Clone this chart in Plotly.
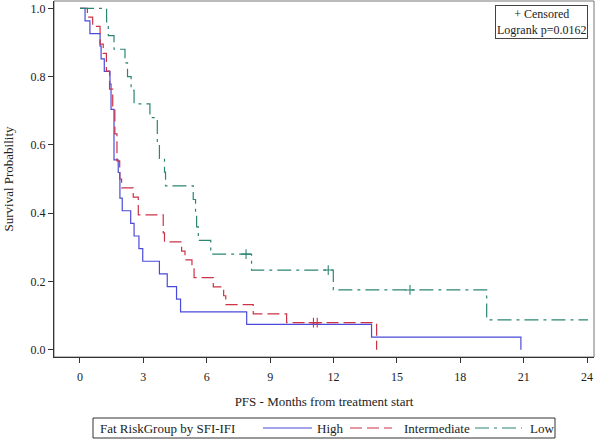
import plotly.graph_objects as go

# ---- data ----
high_t = [0, 0.24, 0.47, 0.95, 1.0, 1.15, 1.42, 1.47, 1.61, 1.81, 1.89, 2.0, 2.4, 2.56, 2.79, 2.97, 3.76, 4.13, 4.57, 4.76, 7.89, 13.8, 20.87]
high_s = [1.0, 0.963, 0.926, 0.889, 0.852, 0.815, 0.778, 0.704, 0.556, 0.519, 0.444, 0.407, 0.370, 0.333, 0.296, 0.259, 0.222, 0.185, 0.148, 0.111, 0.074, 0.037, 0.0]

inter_t = [0, 0.35, 0.6, 0.95, 1.1, 1.25, 1.4, 1.55, 1.65, 1.75, 1.88, 1.97, 2.52, 2.76, 3.94, 4.0, 4.81, 4.97, 5.3, 5.4, 6.31, 6.8, 6.9, 8.2, 9.78, 14.04]
inter_s = [1.0, 0.974, 0.947, 0.895, 0.868, 0.816, 0.763, 0.711, 0.632, 0.553, 0.5, 0.474, 0.447, 0.395, 0.342, 0.316, 0.289, 0.263, 0.237, 0.211, 0.184, 0.158, 0.132, 0.105, 0.079, 0.0]
inter_cens_t = [11.05, 11.23]
inter_cens_s = [0.079, 0.079]

low_t = [0, 1.26, 1.34, 1.61, 2.13, 2.25, 2.42, 2.56, 3.31, 3.66, 3.76, 4.0, 4.05, 5.36, 5.47, 5.52, 5.6, 6.19, 8.12, 11.99, 19.25, 24.05]
low_s = [1.0, 0.96, 0.92, 0.88, 0.84, 0.80, 0.76, 0.72, 0.68, 0.60, 0.56, 0.52, 0.48, 0.44, 0.40, 0.36, 0.32, 0.28, 0.2333, 0.175, 0.0875, 0.0875]
low_cens_t = [7.86, 11.75, 15.62]
low_cens_s = [0.28, 0.2333, 0.175]

x_ticks = [0, 3, 6, 9, 12, 15, 18, 21, 24]
y_ticks = [0.0, 0.2, 0.4, 0.6, 0.8, 1.0]
y_tick_labels = ["0.0", "0.2", "0.4", "0.6", "0.8", "1.0"]

group_names = ["High", "Intermediate", "Low"]
legend_title = "Fat RiskGroup by SFI-IFI"

c_high = "#4B4BDB"
c_inter = "#CC3344"
c_low = "#2B8573"
colors = [c_high, c_inter, c_low]
dashes = ["solid", "12px,5px", "14px,5px,3px,5px"]
FONT = "Liberation Serif"

fig = go.Figure()
series = [(high_t, high_s), (inter_t, inter_s), (low_t, low_s)]
for (t, s), name, col, dsh in zip(series, group_names, colors, dashes):
    fig.add_trace(go.Scatter(x=t, y=s, mode="lines", line_shape="hv", name=name,
                             line=dict(color=col, width=1.2, dash=dsh), showlegend=False))
fig.add_trace(go.Scatter(x=inter_cens_t, y=inter_cens_s, mode="markers", showlegend=False,
                         marker=dict(symbol="cross-thin", size=7, line=dict(color=c_inter, width=1.1))))
fig.add_trace(go.Scatter(x=low_cens_t, y=low_cens_s, mode="markers", showlegend=False,
                         marker=dict(symbol="cross-thin", size=7, line=dict(color=c_low, width=1.1))))

fig.add_annotation(xref="paper", yref="paper", x=0.989, y=0.989, xanchor="right", yanchor="top",
                   text="+ Censored<br>Logrank p=0.0162", showarrow=False, align="center",
                   font=dict(family=FONT, size=12, color="#222"),
                   bordercolor="#444", borderwidth=1, borderpad=1, bgcolor="white")

# ---- bottom legend drawn in paper coordinates ----
def px_x(px):
    return (px - 54) / 540.0

def px_y(py):
    return (357 - py) / 356.0

fig.add_shape(type="rect", xref="paper", yref="paper", x0=px_x(93), x1=px_x(555),
              y0=px_y(418), y1=px_y(438), line=dict(color="#333", width=1), fillcolor="white")
fig.add_annotation(xref="paper", yref="paper", x=px_x(98), y=px_y(428), xanchor="left", yanchor="middle",
                   text=legend_title, showarrow=False, font=dict(family=FONT, size=13, color="#222"))
legend_lines = [(263, 312, 315), (350, 392, 402), (475, 522, 528)]
for (l0, l1, tx), name, col, dsh in zip(legend_lines, group_names, colors, dashes):
    fig.add_shape(type="line", xref="paper", yref="paper", x0=px_x(l0), x1=px_x(l1),
                  y0=px_y(428), y1=px_y(428), line=dict(color=col, width=1.2, dash=dsh))
    fig.add_annotation(xref="paper", yref="paper", x=px_x(tx), y=px_y(428), xanchor="left",
                       yanchor="middle", text=name, showarrow=False,
                       font=dict(family=FONT, size=13, color="#222"))

fig.update_layout(
    width=597, height=440,
    margin=dict(l=54, r=3, t=1, b=83, autoexpand=False),
    plot_bgcolor="white", paper_bgcolor="white",
    font=dict(family=FONT, size=12, color="#222"),
    showlegend=False,
    xaxis=dict(range=[-1.23, 24.33], tickvals=x_ticks, ticks="outside", ticklen=5,
               tickcolor="#333", showline=True, linecolor="#333", linewidth=1, mirror=False,
               showgrid=False, zeroline=False, automargin=False, ticklabelstandoff=4,
               title=dict(text="PFS - Months from treatment start", font=dict(size=13), standoff=13),
               tickfont=dict(size=12)),
    yaxis=dict(range=[-0.0214, 1.0214], tickvals=y_ticks, ticktext=y_tick_labels, ticks="outside",
               ticklen=5, tickcolor="#333", showline=True, linecolor="#333", linewidth=1,
               showgrid=False, zeroline=False, automargin=False,
               title=dict(text="Survival Probability", font=dict(size=13), standoff=14),
               tickfont=dict(size=12)),
)
# light frame on top/right
fig.add_shape(type="rect", xref="paper", yref="paper", x0=0, y0=0, x1=1, y1=1,
              line=dict(color="#777", width=1), layer="below")

fig.write_html("out.html", config={"displayModeBar": False},
               post_script="document.body.style.margin='0';document.body.style.overflow='hidden';")
